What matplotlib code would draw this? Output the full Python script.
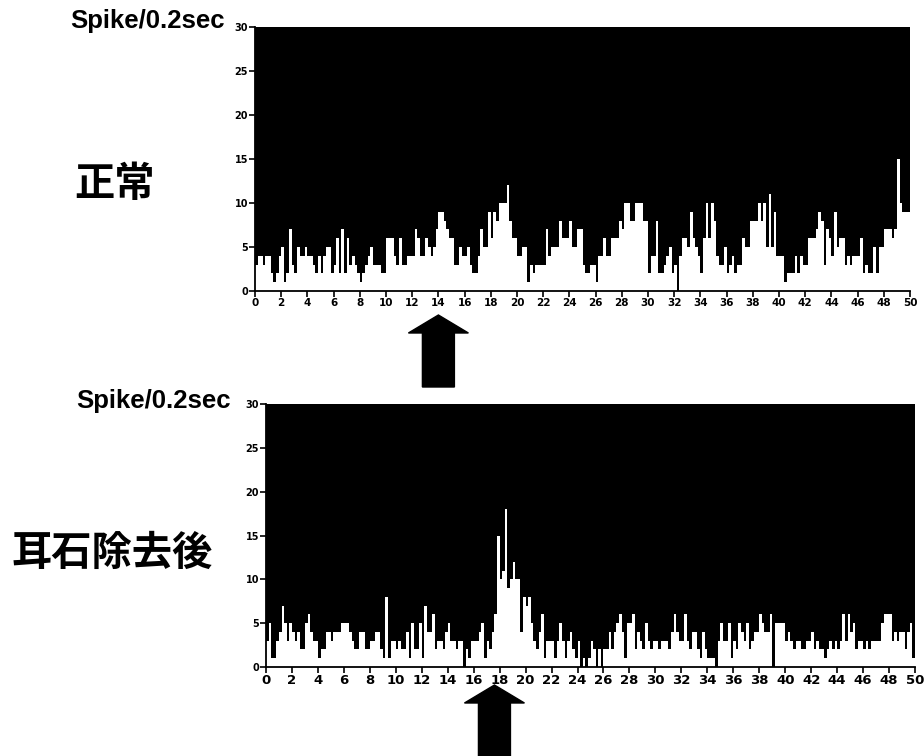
import matplotlib
matplotlib.use("Agg")
import matplotlib.pyplot as plt
import numpy as np
from matplotlib.patches import Polygon

# Spike counts per 0.2 s bin (0-50 s)
normal_counts = [
    3,4,4,3,4, 4,2,1,2,4, 5,1,2,7,3, 2,5,4,4,5, 4,4,3,2,4,
    2,4,5,5,2, 3,6,2,7,2, 6,3,4,3,2, 1,2,3,4,5, 3,3,3,2,2,
    6,6,6,4,3, 6,3,3,4,4, 4,7,6,4,4, 6,5,4,5,7, 9,9,8,7,6,
    6,3,3,5,4, 4,5,3,2,2, 4,7,5,5,9, 6,9,8,10,10, 10,12,8,6,6,
    4,4,5,5,1, 3,2,3,3,3, 3,7,4,5,5, 5,8,6,6,6, 8,5,5,7,7,
    3,2,2,3,3, 1,4,4,6,4, 4,6,6,6,8, 7,10,10,8,8, 10,10,10,8,8,
    2,4,4,8,2, 2,3,4,5,2, 3,0,4,6,6, 5,9,6,5,4, 2,6,10,6,10,
    8,4,3,3,5, 2,3,4,2,3, 3,6,5,5,8, 8,8,10,8,10, 5,11,5,9,4,
    4,4,1,2,2, 2,4,2,4,3, 3,6,6,6,7, 9,8,3,7,6, 4,9,5,6,6,
    3,4,3,4,4, 4,6,2,3,2, 2,5,2,5,5, 7,7,7,6,7, 15,10,9,9,9,
]
otolith_counts = [
    3,5,1,1,3, 4,7,5,3,5, 4,3,4,2,2, 5,6,4,3,3, 1,2,2,4,4,
    3,4,4,4,5, 5,5,4,3,2, 2,4,4,2,2, 3,3,4,4,2, 1,8,1,3,3,
    2,3,2,2,4, 1,5,2,2,5, 1,7,4,4,6, 2,3,3,2,4, 5,3,3,2,3,
    3,0,2,1,3, 3,3,4,5,1, 3,2,4,6,15, 10,11,18,9,10, 12,10,10,4,8,
    7,8,5,3,2, 4,6,1,3,3, 3,1,3,5,3, 1,3,4,2,1, 3,0,1,0,1,
    3,2,0,2,0, 2,2,4,2,4, 5,6,4,1,5, 5,6,2,4,3, 2,5,3,2,3,
    3,2,3,3,3, 2,4,6,4,3, 3,6,3,2,4, 4,2,1,4,2, 1,1,1,0,3,
    5,3,3,5,1, 3,2,5,4,3, 5,2,3,4,4, 6,5,4,4,6, 0,5,5,5,5,
    3,4,3,2,3, 3,2,2,3,3, 4,2,3,2,2, 1,2,3,2,3, 2,3,6,3,6,
    4,5,2,3,3, 2,3,2,3,3, 3,3,5,6,6, 6,3,4,3,4, 4,2,4,5,1,
]
bin_edges = np.linspace(0, 50, 251)
x_ticks = list(range(0, 51, 2))
y_ticks = [0, 5, 10, 15, 20, 25, 30]
y_label = "Spike/0.2sec"
panel_titles = ["正常", "耳石除去後"]
arrow_times = [14, 17.6]

W, H = 924, 756
fig = plt.figure(figsize=(W / 100, H / 100), dpi=100)
fig.patch.set_facecolor("white")

cjk = ["Noto Sans CJK JP", "DejaVu Sans"]

def px_rect(l, t, r, b):
    return [l / W, 1 - b / H, (r - l) / W, (b - t) / H]

def setup(ax, counts, xfs):
    ax.stairs(counts, bin_edges, baseline=30, fill=True, color="black", lw=0)
    ax.set_xlim(0, 50)
    ax.set_ylim(0, 30)
    for s in ["top", "right"]:
        ax.spines[s].set_visible(False)
    for s in ["left", "bottom"]:
        ax.spines[s].set_linewidth(1.3)
    ax.set_xticks(x_ticks)
    ax.set_yticks(y_ticks)
    ax.tick_params(axis="x", length=4, width=1.2, labelsize=xfs, pad=1)
    ax.tick_params(axis="y", length=4, width=1.2, labelsize=7, pad=1)
    for lab in ax.get_xticklabels() + ax.get_yticklabels():
        lab.set_fontweight("bold")

ax1 = fig.add_axes(px_rect(255, 27, 910, 291))
setup(ax1, normal_counts, 7.5)
ax2 = fig.add_axes(px_rect(266, 404, 915, 667))
setup(ax2, otolith_counts, 9.5)

fig.text(70 / W, 1 - 21 / H, y_label, fontsize=18.5, fontweight="bold",
         family="Liberation Sans", va="center", ha="left")
fig.text(76 / W, 1 - 401 / H, y_label, fontsize=18.5, fontweight="bold",
         family="Liberation Sans", va="center", ha="left")
fig.text(115 / W, 1 - 185 / H, panel_titles[0], fontsize=29, family=cjk,
         fontweight="bold", va="center", ha="center")
fig.text(112 / W, 1 - 553 / H, panel_titles[1], fontsize=29, family=cjk,
         fontweight="bold", va="center", ha="center")

def arrow(ax, t, tip_y, base_y, bottom_y):
    cx = ax.transData.transform((t, 0))[0]
    hw, sw = 30, 16
    pts = [(cx, tip_y), (cx + hw, base_y), (cx + sw, base_y), (cx + sw, bottom_y),
           (cx - sw, bottom_y), (cx - sw, base_y), (cx - hw, base_y)]
    pts = [(x / W, 1 - y / H) for x, y in pts]
    fig.patches.append(Polygon(pts, closed=True, color="black",
                               transform=fig.transFigure, figure=fig))

fig.canvas.draw()
arrow(ax1, arrow_times[0], 315, 333, 387)
arrow(ax2, arrow_times[1], 685, 703, 760)

fig.savefig("out.png", dpi=100, facecolor="white")
